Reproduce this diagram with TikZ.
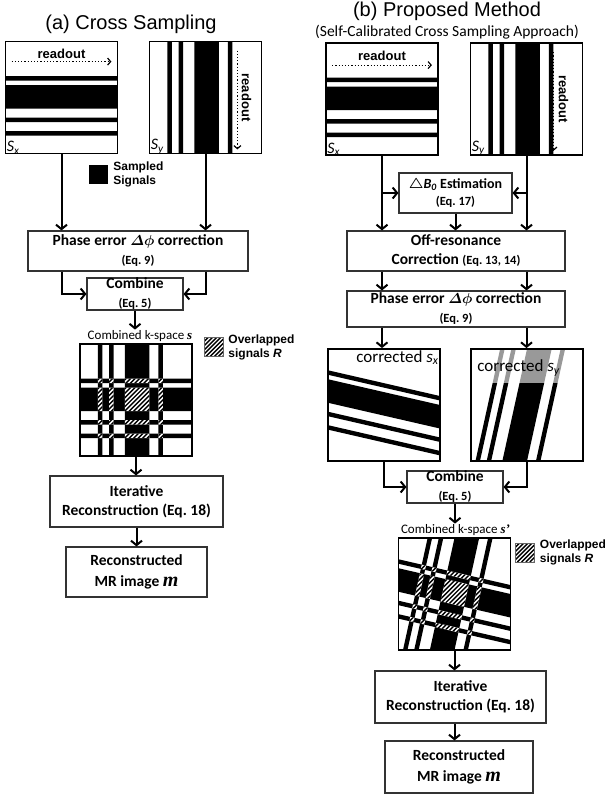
\documentclass[tikz,border=0pt]{standalone}
\usepackage{fontspec}
\setmainfont{Carlito}
\newfontfamily\arialfont{Liberation Sans}
\newfontfamily\timesfont{Liberation Serif}
\usepackage{tikz}
\usetikzlibrary{arrows.meta, positioning}
\frenchspacing

% band sets of the sampled k-space, unit box centred on the origin
\newcommand\hbands[2]{\foreach \ya/\yb in {0.31/0.35,0.39/0.60,0.68/0.72,0.80/0.84}
  {(-0.5,{\ya-0.5+(#1)}) -- (0.5,{\ya-0.5+(#2)}) -- (0.5,{\yb-0.5+(#2)}) -- (-0.5,{\yb-0.5+(#1)}) -- cycle}}
\newcommand\vbands[2]{\foreach \xa/\xb in {0.16/0.20,0.26/0.30,0.40/0.62,0.70/0.74}
  {({\xa-0.5+(#1)},-0.5) -- ({\xb-0.5+(#1)},-0.5) -- ({\xb-0.5+(#2)},0.5) -- ({\xa-0.5+(#2)},0.5) -- cycle}}
\newcommand\hatch[3]{\foreach \i in {0,...,#2}{\draw[black, line width=#3] ({\i*#1-1.5},0.5) -- ({\i*#1-0.5},-0.5);}}
\newcommand\kspace[4]{%
  \fill[black] \hbands{#1}{#2};
  \fill[black] \vbands{#3}{#4};
  \begin{scope}
    \clip \hbands{#1}{#2};
    \clip \vbands{#3}{#4};
    \fill[white] (-0.5,-0.5) rectangle (0.5,0.5);
    \hatch{0.04}{50}{1.4pt}
  \end{scope}}
\newcommand\eqfont{\fontsize{12.5}{15}\selectfont}
\newcommand\imgm{{\timesfont\bfseries\itshape\fontsize{20}{20}\selectfont m}}
\newcommand\dphi{$\mathnormal{\Delta}\phi$}

\begin{document}
\begin{tikzpicture}[
    x=1pt, y=-1pt,
    proc/.style={rectangle, draw=black!80, line width=1.1pt, fill=white, inner sep=0pt,
                 align=center, font=\fontsize{15.5}{19}\selectfont\bfseries\boldmath},
    img/.style={rectangle, draw, line width=1.8pt, fill=white, minimum size=112pt, inner sep=0pt,
                path picture={\begin{scope}[x=112pt, y=-112pt]#1\end{scope}}},
    hatchbox/.style={rectangle, draw=black!60, line width=0.5pt, minimum size=19pt, inner sep=0pt,
                path picture={\begin{scope}[x=19pt, y=-19pt]\hatch{0.22}{10}{1.4pt}\end{scope}}},
    arr/.style={-{Straight Barb[length=4.5pt,width=11pt]}, line width=2pt},
    rdout/.style={dotted, line width=1.2pt, -{Straight Barb[length=3pt,width=7pt]}},
    rdtext/.style={font=\arialfont\bfseries\fontsize{13}{15}\selectfont, inner sep=1pt},
    lgtext/.style={font=\arialfont\bfseries\fontsize{12}{14}\selectfont, align=left, inner sep=0pt},
    sname/.style={font=\itshape\fontsize{16}{18}\selectfont, inner sep=2pt},
    klab/.style={font=\fontsize{13}{15}\selectfont, inner sep=1pt},
    ttl/.style={font=\arialfont\fontsize{20}{24}\selectfont},
]
\useasboundingbox (0,0) rectangle (605,798);

%% (a) cross sampling
\node[ttl] (ttlA) at (131,24) {(a) Cross Sampling};

\node[img={\fill[black] \hbands{0}{0};}] (sxA) at (61.5,97.5) {};
\node[img={\fill[black] \vbands{0}{0};}] (syA) at (205.5,97.5) {};
\draw[rdout] ([xshift=7pt,yshift=-21pt]sxA.north west) -- ([xshift=-7pt,yshift=-21pt]sxA.north east);
\node[rdtext, below=7pt of sxA.north] (rdxA) {readout};
\draw[rdout] ([xshift=-25pt,yshift=-10pt]syA.north east) -- ([xshift=-25pt,yshift=5pt]syA.south east);
\node[rdtext, rotate=-90] (rdyA) at ([xshift=-16pt]syA.east) {readout};
\node[sname, anchor=south west] (lsxA) at ([yshift=-2pt]sxA.south west) {S\textsubscript{x}};
\node[sname, anchor=south west] (lsyA) at ([yshift=-2pt]syA.south west) {S\textsubscript{y}};

\node[rectangle, fill=black, minimum size=19pt, inner sep=0pt] (smpA) at (98.5,174.5) {};
\node[lgtext, right=5pt of smpA] (smptA) {Sampled\\Signals};

\node[proc, minimum width=220pt, minimum height=40pt] (phA) at (138,251)
    {Phase error \dphi\ correction\\{\eqfont (Eq. 9)}};
\node[proc, minimum width=96pt, minimum height=32pt] (cbA) at (135,294)
    {Combine\\{\eqfont (Eq. 5)}};

\node[img={\kspace{0}{0}{0}{0}}] (kA) at (136,400) {};
\node[klab, above=0pt of kA, xshift=4pt] (klabA)
    {Combined k-space {\timesfont\bfseries\itshape s}};
\node[hatchbox] (hatA) at (213.5,347) {};
\node[lgtext, right=5pt of hatA] (hattA) {Overlapped\\signals \textit{R}};

\node[proc, minimum width=173pt, minimum height=51pt] (itA) at (136.5,501.5)
    {Iterative\\Reconstruction (Eq. 18)};
\node[proc, minimum width=141pt, minimum height=50pt] (rcA) at (136.5,572)
    {Reconstructed\\[2pt]MR image \imgm};

\draw[arr] (sxA.south) -- (sxA.south |- phA.north);
\draw[arr] (syA.south) -- (syA.south |- phA.north);
\draw[arr] (sxA.south |- phA.south) |- (cbA.west);
\draw[arr] (syA.south |- phA.south) |- (cbA.east);
\draw[arr] (cbA.south) -- (cbA.south |- klabA.north);
\draw[arr] (kA.south) -- (kA.south |- itA.north);
\draw[arr] (itA) -- (rcA);

%% (b) proposed method
\node[ttl] (ttlB) at (447,11) {(b) Proposed Method};
\node[font=\fontsize{15.5}{18}\selectfont] (subB) at (447,32) {(Self-Calibrated Cross Sampling Approach)};

\node[img={\fill[black] \hbands{0}{0};}] (sxB) at (382,99) {};
\node[img={\fill[black] \vbands{0}{0};}] (syB) at (526.5,99) {};
\draw[rdout] ([xshift=7pt,yshift=-23pt]sxB.north west) -- ([xshift=-7pt,yshift=-23pt]sxB.north east);
\node[rdtext, below=8pt of sxB.north] (rdxB) {readout};
\draw[rdout] ([xshift=-30pt,yshift=-10pt]syB.north east) -- ([xshift=-30pt,yshift=5pt]syB.south east);
\node[rdtext, rotate=-90] (rdyB) at ([xshift=-20pt]syB.east) {readout};
\node[sname, anchor=south west] (lsxB) at ([yshift=-2pt]sxB.south west) {S\textsubscript{x}};
\node[sname, anchor=south west] (lsyB) at ([yshift=-2pt]syB.south west) {S\textsubscript{y}};

\node[proc, minimum width=113pt, minimum height=40pt, font=\fontsize{14}{17}\selectfont\bfseries\boldmath] (dbB) at (455.5,193)
    {$\triangle$\textit{B}\textsubscript{\textit{0}} Estimation\\{\eqfont (Eq. 17)}};
\node[proc, minimum width=218pt, minimum height=40pt] (orB) at (456,251)
    {Off-resonance\\Correction {\eqfont (Eq. 13, 14)}};
\node[proc, minimum width=218pt, minimum height=36pt] (phB) at (456,309)
    {Phase error \dphi\ correction\\{\eqfont (Eq. 9)}};

\node[img={\fill[black] \hbands{-0.12}{0.11};}] (csxB) at (384,405) {};
\node[img={\fill[black] \vbands{0.10}{-0.12}; \fill[white, fill opacity=0.6] (-0.5,-0.5) rectangle (0.5,-0.2);}] (csyB) at (527,405) {};
\node[font=\fontsize{17}{19}\selectfont, anchor=north east, inner sep=2pt] (tcxB) at (csxB.north east)
    {corrected \textit{s}\textsubscript{\textit{x}}};
\node[font=\fontsize{17}{19}\selectfont, anchor=west, inner sep=0pt] (tcyB) at ([xshift=7pt,yshift=-20pt]csyB.north west)
    {corrected \textit{s}\textsubscript{\textit{y}}};

\node[proc, minimum width=96pt, minimum height=32pt] (cbB) at (455,487)
    {Combine\\{\eqfont (Eq. 5)}};

\node[img={\kspace{-0.12}{0.11}{0.10}{-0.12}}] (kB) at (454.5,594) {};
\node[klab, above=0pt of kB, xshift=1pt] (klabB)
    {Combined k-space {\timesfont\bfseries\itshape s’}};
\node[hatchbox] (hatB) at (525,552.5) {};
\node[lgtext, right=5pt of hatB] (hattB) {Overlapped\\signals \textit{R}};

\node[proc, minimum width=171pt, minimum height=52pt] (itB) at (460.5,697)
    {Iterative\\Reconstruction (Eq. 18)};
\node[proc, minimum width=148pt, minimum height=52pt] (rcB) at (459,767)
    {Reconstructed\\[2pt]MR image \imgm};

\draw[arr] (sxB.south) -- (sxB.south |- orB.north);
\draw[arr] (syB.south) -- (syB.south |- orB.north);
\draw[arr] (sxB.south |- dbB.west) -- (dbB.west);
\draw[arr] (syB.south |- dbB.east) -- (dbB.east);
\draw[arr] (dbB.south) -- (dbB.south |- orB.north);
\draw[arr] (sxB.south |- orB.south) -- (sxB.south |- phB.north);
\draw[arr] (syB.south |- orB.south) -- (syB.south |- phB.north);
\draw[arr] (sxB.south |- phB.south) -- (sxB.south |- csxB.north);
\draw[arr] (syB.south |- phB.south) -- (syB.south |- csyB.north);
\draw[arr] (csxB.south) |- (cbB.west);
\draw[arr] (csyB.south) |- (cbB.east);
\draw[arr] (cbB.south) -- (cbB.south |- klabB.north);
\draw[arr] (kB.south) -- (kB.south |- itB.north);
\draw[arr] (kB.south |- itB.south) -- (kB.south |- rcB.north);

\end{tikzpicture}
\end{document}
